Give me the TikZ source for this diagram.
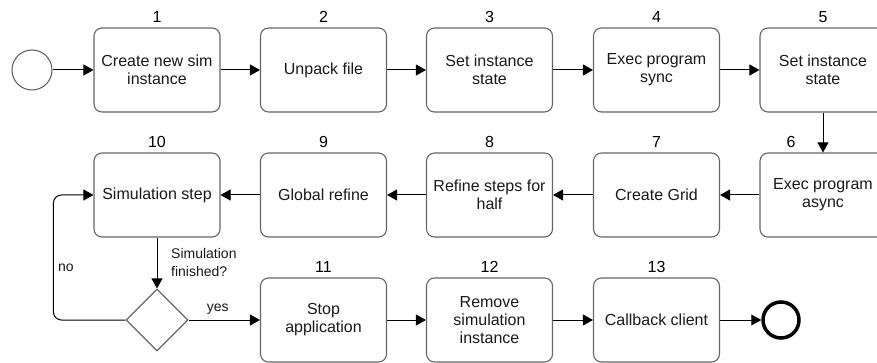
\documentclass[tikz,border=0pt]{standalone}
\usepackage{fontspec}
\setmainfont{Liberation Sans}
\usetikzlibrary{arrows.meta,shapes.geometric}

\tikzset{
  task/.style={draw=black!60,line width=1.1pt,rounded corners=8pt,
    minimum width=126pt,minimum height=84pt,inner sep=0pt,align=center,
    font=\fontsize{16}{18}\selectfont,text=black!90},
  num/.style={label={[inner sep=0pt,label distance=5pt,
    font=\fontsize{16}{18}\selectfont]above:#1}},
  flow/.style={-{Triangle[length=10pt,width=11pt]},line width=1pt},
  lbl/.style={font=\fontsize{14}{18}\selectfont,inner sep=0pt,text=black!90}
}

\begin{document}
\begin{tikzpicture}[x=1pt,y=-1pt]
  \useasboundingbox (0,0) rectangle (877,363);
  % events and gateway
  \node[draw=black!65,line width=1pt,circle,minimum size=40pt,inner sep=0pt] (start) at (32,70) {};
  \node[draw=black,line width=3.5pt,circle,minimum size=36pt,inner sep=0pt] (stop) at (781,320) {};
  \node[draw=black!60,line width=1.1pt,diamond,minimum size=62pt,inner sep=0pt] (gate) at (157,320) {};
  % tasks
  \node[task,num=1] (T-1) at (157,70) {Create new sim\\instance};
  \node[task,num=2] (T-2) at (323.5,70) {Unpack file};
  \node[task,num=3] (T-3) at (489.5,70) {Set instance\\state};
  \node[task,num=4] (T-4) at (656.5,70) {Exec program\\sync};
  \node[task,num=5] (T-5) at (823,70) {Set instance\\state};
  \node[task,label={[inner sep=0pt,label distance=5pt,xshift=-32pt,
    font=\fontsize{16}{18}\selectfont]above:6}] (T-6) at (823,195) {Exec program\\async};
  \node[task,num=7] (T-7) at (656.5,195) {Create Grid};
  \node[task,num=8] (T-8) at (489.5,195) {Refine steps for\\half};
  \node[task,num=9] (T-9) at (323.5,195) {Global refine};
  \node[task,num=10] (T-10) at (157,195) {Simulation step};
  \node[task,num=11] (T-11) at (323.5,320) {Stop\\application};
  \node[task,num=12] (T-12) at (489.5,320) {Remove\\simulation\\instance};
  \node[task,num=13] (T-13) at (656.5,320) {Callback client};
  % labels
  \node[lbl,align=left,anchor=north west] (ask) at (171,248) {Simulation\\finished?};
  \node[lbl,anchor=west] (no) at (58,268) {no};
  % flows
  \draw[flow] (start) -- (T-1);
  \draw[flow] (T-1) -- (T-2);
  \draw[flow] (T-2) -- (T-3);
  \draw[flow] (T-3) -- (T-4);
  \draw[flow] (T-4) -- (T-5);
  \draw[flow] (T-5) -- (T-6);
  \draw[flow] (T-6) -- (T-7);
  \draw[flow] (T-7) -- (T-8);
  \draw[flow] (T-8) -- (T-9);
  \draw[flow] (T-9) -- (T-10);
  \draw[flow] (T-10) -- (gate);
  \draw[flow] (gate) -- node[lbl,above=5pt,pos=0.41] (yes) {yes} (T-11);
  \draw[flow,rounded corners=8pt] (gate.west) -- ++(-72,0) |- (T-10.west);
  \draw[flow] (T-11) -- (T-12);
  \draw[flow] (T-12) -- (T-13);
  \draw[flow] (T-13) -- (stop);
\end{tikzpicture}
\end{document}
